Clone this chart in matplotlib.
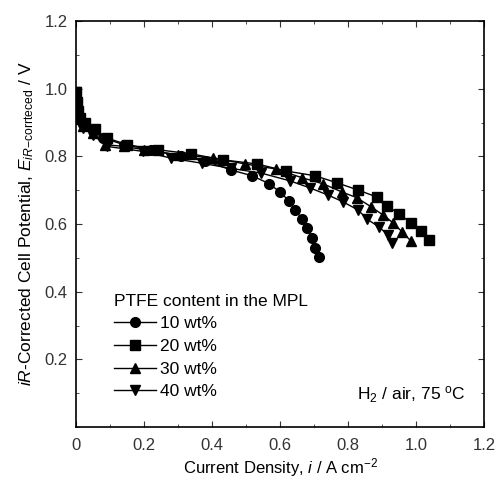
import matplotlib.pyplot as plt
from matplotlib.ticker import MultipleLocator

plt.rcParams['font.family'] = ['Liberation Sans', 'DejaVu Sans']
plt.rcParams['mathtext.fontset'] = 'custom'
plt.rcParams['mathtext.rm'] = 'Liberation Sans'
plt.rcParams['mathtext.it'] = 'Liberation Sans:italic'

# PTFE 10 wt%
x10 = [0, 0.003, 0.006, 0.01, 0.02, 0.05, 0.08, 0.14, 0.22, 0.31, 0.38, 0.456,
       0.518, 0.567, 0.60, 0.626, 0.645, 0.665, 0.68, 0.694, 0.703, 0.715]
y10 = [0.99, 0.96, 0.93, 0.91, 0.895, 0.875, 0.855, 0.835, 0.82, 0.80, 0.787, 0.76,
       0.743, 0.72, 0.695, 0.669, 0.642, 0.615, 0.589, 0.559, 0.53, 0.503]
# PTFE 20 wt%
x20 = [0, 0.003, 0.007, 0.012, 0.025, 0.055, 0.09, 0.15, 0.24, 0.338, 0.432,
       0.532, 0.618, 0.703, 0.768, 0.829, 0.885, 0.915, 0.95, 0.985, 1.015, 1.038]
y20 = [0.99, 0.96, 0.935, 0.915, 0.90, 0.88, 0.855, 0.835, 0.82, 0.808, 0.79,
       0.778, 0.757, 0.743, 0.722, 0.701, 0.68, 0.654, 0.63, 0.604, 0.58, 0.553]
# PTFE 30 wt%
x30 = [0, 0.003, 0.006, 0.01, 0.02, 0.05, 0.085, 0.14, 0.20, 0.30, 0.403, 0.497,
       0.588, 0.665, 0.727, 0.782, 0.826, 0.868, 0.903, 0.932, 0.959, 0.985]
y30 = [0.99, 0.955, 0.93, 0.91, 0.89, 0.87, 0.835, 0.83, 0.82, 0.805, 0.796, 0.778,
       0.763, 0.737, 0.719, 0.695, 0.678, 0.651, 0.627, 0.604, 0.577, 0.55]
# PTFE 40 wt%
x40 = [0, 0.003, 0.006, 0.01, 0.02, 0.05, 0.09, 0.197, 0.28, 0.37, 0.455, 0.544,
       0.629, 0.688, 0.741, 0.785, 0.829, 0.856, 0.89, 0.918, 0.929]
y40 = [0.99, 0.955, 0.925, 0.905, 0.885, 0.865, 0.83, 0.815, 0.795, 0.78, 0.765, 0.751,
       0.728, 0.707, 0.686, 0.666, 0.642, 0.615, 0.592, 0.568, 0.544]

labels = ['10 wt%', '20 wt%', '30 wt%', '40 wt%']
markers = ['o', 's', '^', 'v']

fig = plt.figure(figsize=(4.97, 4.82), dpi=100)
ax = fig.add_axes([0.153, 0.114, 0.821, 0.842])

for xs, ys, m, lab in zip([x10, x20, x30, x40], [y10, y20, y30, y40], markers, labels):
    ax.plot(xs, ys, color='black', lw=1, marker=m, ms=7, mfc='black', mec='black', label=lab)

ax.set_xlim(0, 1.2)
ax.set_ylim(0, 1.2)
ax.xaxis.set_minor_locator(MultipleLocator(0.1))
ax.yaxis.set_minor_locator(MultipleLocator(0.1))
ax.set_xticks([0, 0.2, 0.4, 0.6, 0.8, 1.0, 1.2])
ax.set_xticklabels(['0', '0.2', '0.4', '0.6', '0.8', '1.0', '1.2'])
ax.set_yticks([0.2, 0.4, 0.6, 0.8, 1.0, 1.2])
ax.set_yticklabels(['0.2', '0.4', '0.6', '0.8', '1.0', '1.2'])
ax.tick_params(which='both', direction='in', top=True, right=True, labelsize=12, colors='#333333')
ax.tick_params(which='major', length=4)
ax.tick_params(which='minor', length=2)
ax.tick_params(axis='x', which='major', pad=8)
ax.tick_params(axis='y', which='major', pad=6)
for s in ax.spines.values():
    s.set_linewidth(1.2)

ax.set_xlabel(r'Current Density, $\mathit{i}$ / A cm$^{-2}$', fontsize=12, labelpad=2)
ax.set_ylabel(r'$\mathit{iR}$-Corrected Cell Potential, $\mathit{E}_{\mathit{iR}\mathrm{-corrteced}}$ / V',
              fontsize=12.5, labelpad=6)

ax.text(0.955, 0.08, r'H$_2$ / air, 75 $^{\mathrm{o}}$C', transform=ax.transAxes,
        ha='right', va='center', fontsize=12.5)

leg = ax.legend(loc='upper left', bbox_to_anchor=(0.055, 0.367), frameon=False,
                title='PTFE content in the MPL', fontsize=12.5, title_fontsize=12.5,
                handlelength=2.4, handletextpad=0.25, labelspacing=0.43)
leg._legend_box.align = 'left'

fig.savefig('out.png', dpi=100)
